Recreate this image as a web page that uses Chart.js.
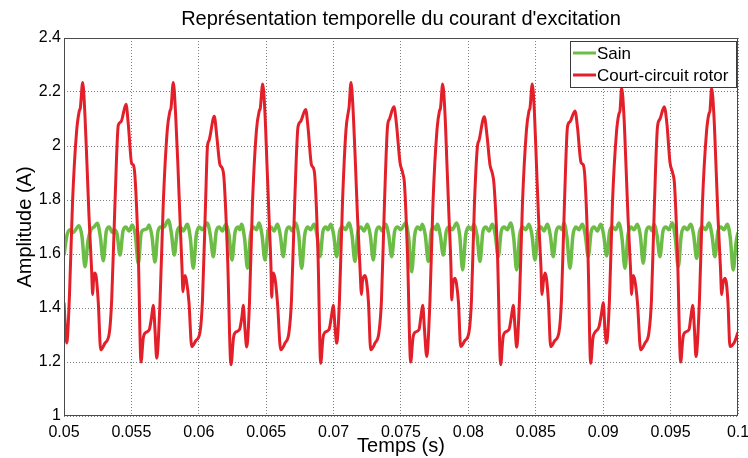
<!DOCTYPE html>
<html>
<head>
<meta charset="utf-8">
<script src="https://cdn.jsdelivr.net/npm/chart.js@4.4.0/dist/chart.umd.min.js"></script>
<style>
html,body{margin:0;padding:0;background:#fff;}
#wrap{width:748px;height:458px;}
</style>
</head>
<body>
<div id="wrap"><canvas id="c" width="748" height="458"></canvas></div>
<script>
const chartTitle = "Représentation temporelle du courant d'excitation";
const xAxisTitle = "Temps (s)";
const yAxisTitle = "Amplitude (A)";
const seriesNames = ["Sain", "Court-circuit rotor"];
const xTickLabels = ["0.05","0.055","0.06","0.065","0.07","0.075","0.08","0.085","0.09","0.095","0.1"];
const yTickLabels = ["1","1.2","1.4","1.6","1.8","2","2.2","2.4"];

// Healthy machine (Sain): time (s) and current (A)
const sainTime = [
0.050000,0.050223,0.050445,0.050668,0.051113,0.051335,
0.051558,0.051780,0.052003,0.052225,0.052470,0.052693,
0.052915,0.053138,0.053360,0.053583,0.053709,0.053932,
0.054154,0.054377,0.054599,0.054822,0.055066,0.055289,
0.055512,0.055734,0.055957,0.056179,0.056305,0.056528,
0.056750,0.056973,0.057195,0.057418,0.057737,0.057959,
0.058182,0.058405,0.058627,0.058850,0.059146,0.059369,
0.059591,0.059814,0.060036,0.060259,0.060630,0.060853,
0.061075,0.061298,0.061520,0.061743,0.062017,0.062240,
0.062462,0.062685,0.062907,0.063056,0.063167,0.063390,
0.063612,0.063835,0.064057,0.064280,0.064465,0.064688,
0.064910,0.065133,0.065355,0.065578,0.065823,0.066045,
0.066268,0.066490,0.066713,0.066935,0.067188,0.067410,
0.067633,0.067855,0.068078,0.068300,0.068545,0.068768,
0.068990,0.069213,0.069435,0.069584,0.069784,0.070007,
0.070229,0.070452,0.070674,0.070897,0.071141,0.071364,
0.071586,0.071809,0.072031,0.072254,0.072499,0.072721,
0.072944,0.073166,0.073389,0.073611,0.073863,0.074086,
0.074309,0.074531,0.074754,0.074976,0.075347,0.075570,
0.075792,0.076015,0.076237,0.076460,0.076579,0.076801,
0.077024,0.077246,0.077469,0.077595,0.077691,0.077914,
0.078136,0.078359,0.078581,0.078804,0.079130,0.079353,
0.079575,0.079798,0.080021,0.080243,0.080414,0.080636,
0.080859,0.081081,0.081304,0.081527,0.081771,0.081994,
0.082216,0.082439,0.082661,0.082884,0.083136,0.083359,
0.083581,0.083804,0.084026,0.084249,0.084494,0.084716,
0.084939,0.085161,0.085384,0.085606,0.085851,0.086074,
0.086296,0.086519,0.086741,0.086964,0.087090,0.087313,
0.087535,0.087758,0.087980,0.088203,0.088448,0.088670,
0.088893,0.089115,0.089338,0.089561,0.089813,0.090035,
0.090258,0.090480,0.090703,0.090925,0.091170,0.091392,
0.091615,0.091838,0.092060,0.092283,0.092528,0.092750,
0.092973,0.093195,0.093418,0.093640,0.093766,0.093989,
0.094211,0.094434,0.094656,0.094879,0.095124,0.095346,
0.095569,0.095791,0.096014,0.096236,0.096489,0.096711,
0.096934,0.097157,0.097379,0.097602,0.097846,0.098069,
0.098291,0.098514,0.098736,0.098959,0.099204,0.099426,
0.099649,0.099849,0.100000
];
const sainValue = [
1.595,1.67,1.69,1.68,1.705,1.665,
1.553,1.65,1.69,1.70,1.714,1.665,
1.575,1.685,1.70,1.68,1.69,1.675,
1.596,1.685,1.70,1.685,1.707,1.67,
1.565,1.68,1.69,1.695,1.707,1.665,
1.57,1.685,1.70,1.70,1.726,1.68,
1.596,1.685,1.70,1.685,1.71,1.66,
1.547,1.67,1.70,1.69,1.715,1.67,
1.59,1.685,1.70,1.685,1.71,1.67,
1.578,1.68,1.70,1.69,1.71,1.66,
1.547,1.67,1.70,1.69,1.715,1.67,
1.578,1.685,1.70,1.685,1.71,1.67,
1.59,1.685,1.70,1.685,1.715,1.67,
1.547,1.67,1.70,1.69,1.71,1.67,
1.59,1.685,1.70,1.69,1.71,1.67,
1.59,1.685,1.70,1.69,1.715,1.67,
1.572,1.685,1.70,1.685,1.71,1.67,
1.578,1.685,1.70,1.685,1.71,1.67,
1.59,1.685,1.70,1.69,1.715,1.66,
1.534,1.67,1.70,1.69,1.71,1.67,
1.572,1.685,1.70,1.69,1.71,1.67,
1.596,1.685,1.70,1.69,1.715,1.67,
1.541,1.67,1.70,1.69,1.71,1.67,
1.572,1.685,1.70,1.685,1.71,1.67,
1.59,1.685,1.70,1.69,1.715,1.66,
1.541,1.67,1.70,1.69,1.71,1.67,
1.578,1.685,1.70,1.685,1.71,1.67,
1.59,1.685,1.70,1.69,1.715,1.66,
1.547,1.67,1.70,1.69,1.71,1.67,
1.59,1.685,1.70,1.685,1.71,1.67,
1.593,1.685,1.70,1.69,1.715,1.66,
1.547,1.67,1.70,1.69,1.71,1.67,
1.566,1.685,1.70,1.685,1.71,1.67,
1.59,1.685,1.70,1.69,1.715,1.66,
1.553,1.67,1.70,1.69,1.71,1.67,
1.584,1.685,1.70,1.69,1.715,1.67,
1.59,1.685,1.70,1.69,1.71,1.66,
1.541,1.64,1.68
];

// Rotor short-circuit (Court-circuit rotor): time (s) and current (A)
const ccTime = [
0.050000,0.050200,0.050408,0.050631,0.050927,0.051135,0.051209,0.051387,
0.051558,0.051706,0.051855,0.052040,0.052129,0.052188,0.052262,0.052374,0.052544,0.052722,
0.053041,0.053360,0.053538,0.053783,0.054028,0.054228,0.054599,
0.054770,0.055022,0.055141,0.055267,0.055512,0.055712,
0.055882,0.056009,0.056328,0.056506,0.056624,0.056750,0.056876,
0.057121,0.057366,0.057663,0.057863,0.057937,0.058108,
0.058278,0.058457,0.058605,0.058753,0.058827,0.058902,0.058976,0.059087,0.059273,0.059473,
0.059792,0.060088,0.060274,0.060496,0.060645,0.060756,0.061149,
0.061327,0.061572,0.061720,0.061869,0.062128,0.062388,
0.062574,0.062722,0.063019,0.063204,0.063300,0.063427,0.063553,
0.063760,0.063983,0.064280,0.064487,0.064562,0.064740,
0.064910,0.065059,0.065207,0.065355,0.065407,0.065467,0.065526,0.065652,0.065837,0.066075,
0.066394,0.066691,0.066876,0.067113,0.067358,0.067544,0.067929,
0.068100,0.068360,0.068493,0.068619,0.068842,0.069042,
0.069213,0.069361,0.069658,0.069843,0.069977,0.070103,0.070229,
0.070436,0.070659,0.070919,0.071104,0.071141,0.071290,
0.071460,0.071623,0.071772,0.071957,0.072069,0.072143,0.072328,0.072439,0.072588,0.072751,
0.073070,0.073367,0.073552,0.073775,0.073997,0.074146,0.074479,
0.074665,0.074924,0.075125,0.075258,0.075481,0.075718,
0.075889,0.076037,0.076334,0.076482,0.076608,0.076742,0.076905,
0.077150,0.077372,0.077669,0.077855,0.077929,0.078092,
0.078263,0.078411,0.078559,0.078708,0.078760,0.078856,0.079004,0.079116,0.079264,0.079427,
0.079746,0.080043,0.080228,0.080451,0.080673,0.080785,0.081178,
0.081378,0.081601,0.081771,0.081898,0.082157,0.082394,
0.082565,0.082713,0.083010,0.083196,0.083329,0.083455,0.083581,
0.083789,0.084012,0.084308,0.084494,0.084568,0.084739,
0.084902,0.085050,0.085198,0.085384,0.085458,0.085569,0.085681,0.085792,0.085940,0.086103,
0.086422,0.086719,0.086905,0.087127,0.087350,0.087535,0.087906,
0.088091,0.088351,0.088522,0.088648,0.088870,0.089071,
0.089241,0.089389,0.089686,0.089872,0.090005,0.090131,0.090243,
0.090465,0.090688,0.090984,0.091170,0.091244,0.091370,
0.091541,0.091689,0.091838,0.092023,0.092112,0.092171,0.092230,0.092357,0.092542,0.092780,
0.093099,0.093395,0.093581,0.093803,0.094026,0.094211,0.094530,
0.094731,0.094953,0.095154,0.095287,0.095509,0.095747,
0.095917,0.096066,0.096363,0.096511,0.096637,0.096770,0.096882,
0.097141,0.097364,0.097660,0.097846,0.097920,0.098046,
0.098217,0.098365,0.098513,0.098698,0.098788,0.098884,0.099033,0.099144,0.099256,0.099404,
0.099701,0.100000
];
const ccValue = [
1.42,1.27,1.45,1.79,2.05,2.13,2.14,2.235,
2.11,1.93,1.74,1.55,1.45,1.50,1.53,1.52,1.42,1.245,
1.27,1.307,1.43,1.79,2.077,2.09,2.155,
2.08,1.935,1.93,1.886,1.60,1.20,
1.29,1.307,1.32,1.37,1.41,1.32,1.214,
1.42,1.79,2.06,2.13,2.14,2.235,
2.12,1.92,1.73,1.55,1.46,1.50,1.52,1.50,1.42,1.257,
1.28,1.31,1.43,1.78,2.00,2.02,2.11,
2.04,1.93,1.92,1.88,1.60,1.19,
1.29,1.31,1.32,1.37,1.41,1.32,1.256,
1.42,1.79,2.06,2.13,2.14,2.23,
2.12,1.93,1.74,1.55,1.44,1.50,1.53,1.51,1.42,1.245,
1.27,1.31,1.43,1.79,2.07,2.09,2.135,
2.07,1.93,1.92,1.88,1.60,1.195,
1.29,1.31,1.32,1.37,1.41,1.33,1.27,
1.43,1.79,2.06,2.13,2.14,2.235,
2.12,1.93,1.74,1.55,1.45,1.50,1.52,1.50,1.42,1.245,
1.27,1.31,1.43,1.79,2.07,2.10,2.145,
2.08,1.94,1.90,1.86,1.60,1.20,
1.29,1.31,1.32,1.37,1.41,1.32,1.22,
1.43,1.79,2.06,2.13,2.14,2.23,
2.12,1.93,1.74,1.55,1.43,1.49,1.51,1.49,1.42,1.257,
1.28,1.31,1.43,1.79,2.00,2.02,2.108,
2.04,1.93,1.90,1.86,1.60,1.19,
1.29,1.31,1.32,1.37,1.41,1.33,1.255,
1.43,1.79,2.06,2.13,2.14,2.23,
2.12,1.93,1.74,1.55,1.45,1.50,1.53,1.51,1.42,1.257,
1.28,1.31,1.43,1.79,2.07,2.09,2.13,
2.07,1.94,1.93,1.88,1.60,1.195,
1.29,1.31,1.33,1.38,1.42,1.32,1.27,
1.43,1.79,2.05,2.12,2.13,2.215,
2.11,1.93,1.74,1.55,1.45,1.50,1.52,1.50,1.42,1.245,
1.27,1.31,1.43,1.79,2.07,2.10,2.145,
2.08,1.94,1.90,1.86,1.60,1.20,
1.29,1.31,1.32,1.37,1.41,1.32,1.22,
1.43,1.79,2.05,2.12,2.13,2.214,
2.11,1.93,1.74,1.55,1.45,1.49,1.51,1.49,1.42,1.257,
1.27,1.31
];

const seriesColors = ["#6cbd45", "#e3202a"];

const FONT = "'Liberation Sans', Arial, Helvetica, sans-serif";
Chart.defaults.font.family = FONT;
Chart.defaults.color = '#000';

function toPoints(ts, vs) { return ts.map((t, i) => ({x: t, y: vs[i]})); }

const frameLegend = {
  id: 'frameLegend',
  afterDraw(chart) {
    const {ctx, chartArea: a} = chart;
    ctx.save();
    // axes box
    ctx.strokeStyle = '#4a4a4a';
    ctx.lineWidth = 1;
    ctx.strokeRect(Math.round(a.left) + 0.5, Math.round(a.top) + 0.5,
                   Math.round(a.right - a.left) - 1, Math.round(a.bottom - a.top) - 1);
    // legend box (inside axes, north-east)
    const bw = 166, bh = 46;
    const bx = Math.round(a.right) - bw - 2, by = Math.round(a.top) + 3;
    ctx.fillStyle = '#fff';
    ctx.fillRect(bx, by, bw, bh);
    ctx.strokeStyle = '#3a3a3a';
    ctx.strokeRect(bx + 0.5, by + 0.5, bw, bh);
    ctx.font = '17px ' + FONT;
    ctx.textBaseline = 'middle';
    ctx.textAlign = 'left';
    chart.data.datasets.forEach((ds, i) => {
      const y = by + 12 + i * 22;
      ctx.strokeStyle = ds.borderColor;
      ctx.lineWidth = 3;
      ctx.beginPath();
      ctx.moveTo(bx + 3, y);
      ctx.lineTo(bx + 26, y);
      ctx.stroke();
      ctx.fillStyle = '#000';
      ctx.fillText(ds.label, bx + 27, y + 1);
    });
    ctx.restore();
  }
};

new Chart(document.getElementById('c'), {
  type: 'line',
  data: {
    datasets: [
      {
        label: seriesNames[0],
        data: toPoints(sainTime, sainValue),
        borderColor: seriesColors[0],
        backgroundColor: seriesColors[0],
        borderWidth: 3.5,
        pointRadius: 0,
        cubicInterpolationMode: 'monotone',
        order: 1
      },
      {
        label: seriesNames[1],
        data: toPoints(ccTime, ccValue),
        borderColor: seriesColors[1],
        backgroundColor: seriesColors[1],
        borderWidth: 3,
        pointRadius: 0,
        cubicInterpolationMode: 'monotone',
        order: 0
      }
    ]
  },
  options: {
    responsive: false,
    animation: false,
    devicePixelRatio: 1,
    layout: {padding: {left: 0, right: 10, top: 0, bottom: 0}},
    plugins: {
      legend: {display: false},
      tooltip: {enabled: false},
      title: {
        display: true,
        text: chartTitle,
        fullSize: false,
        color: '#000',
        font: {size: 20, weight: 'normal', lineHeight: 1.2},
        padding: {top: 7, bottom: 7}
      }
    },
    scales: {
      x: {
        type: 'linear',
        min: 0.05,
        max: 0.1,
        ticks: {
          stepSize: 0.005,
          autoSkip: false,
          maxRotation: 0,
          color: '#000',
          font: {size: 16},
          padding: 7,
          callback: (v) => {
            const s = xTickLabels.find(l => Math.abs(parseFloat(l) - v) < 1e-9);
            return s === undefined ? '' : s;
          }
        },
        grid: {color: 'rgba(0,0,0,0.5)', lineWidth: 1, drawTicks: false},
        border: {display: false, dash: [1, 2]},
        title: {display: true, text: xAxisTitle, color: '#000', font: {size: 20, lineHeight: 1.2}, padding: {top: 0, bottom: 0}},
        afterFit(s) { s.height = 42; s.paddingLeft = 0; s.paddingRight = 0; }
      },
      y: {
        min: 1,
        max: 2.4,
        ticks: {
          stepSize: 0.2,
          color: '#000',
          font: {size: 16},
          padding: 3,
          callback: (v) => {
            const s = yTickLabels.find(l => Math.abs(parseFloat(l) - v) < 1e-9);
            return s === undefined ? '' : s;
          }
        },
        grid: {color: 'rgba(0,0,0,0.5)', lineWidth: 1, drawTicks: false},
        border: {display: false, dash: [1, 2]},
        title: {display: true, text: yAxisTitle, color: '#000', font: {size: 20, lineHeight: 1.2}, padding: {top: 13, bottom: 0}},
        afterFit(s) { s.width = 64; s.paddingTop = 0; s.paddingBottom = 0; }
      }
    }
  },
  plugins: [frameLegend]
});
</script>
</body>
</html>
